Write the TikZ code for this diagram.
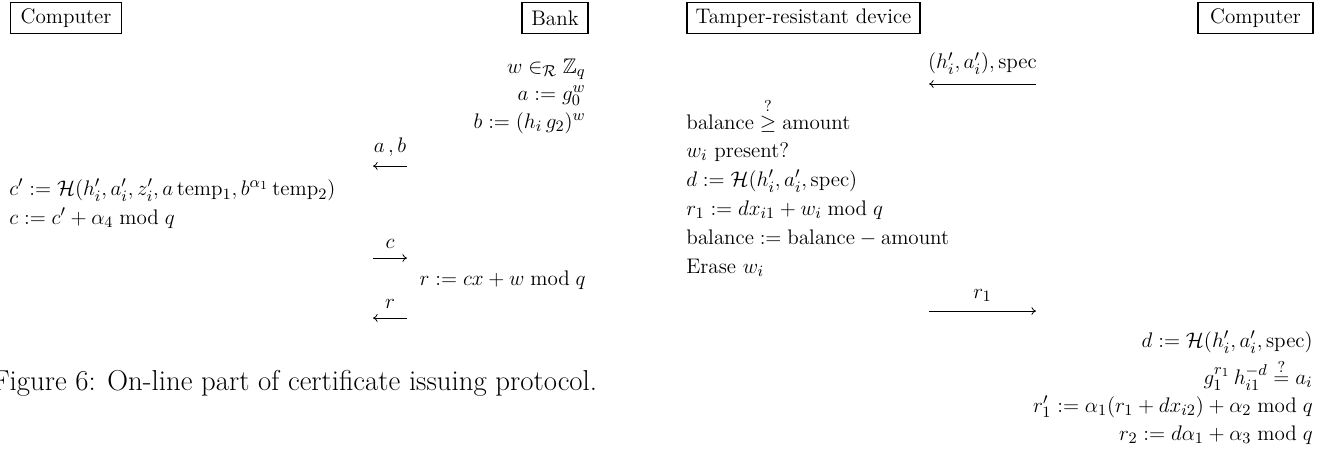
\RequirePackage{fix-cm}
\documentclass[tikz,border=0pt]{standalone}
\usepackage{amsmath,amssymb}
\DeclareMathSizes{12}{12}{9}{7}
\usetikzlibrary{arrows.meta,positioning}
\tikzset{
  every node/.style={font=\fontsize{12}{14}\selectfont},
  party/.style={draw, line width=0.9pt, minimum height=0.62cm, inner xsep=5pt},
  lline/.style={anchor=base west, inner sep=0pt},
  rline/.style={anchor=base east, inner sep=0pt},
  msgln/.style={-{To[length=2.6pt,width=4.4pt]}, line width=0.45pt},
  msglbl/.style={inner sep=0pt, above=5pt},
}

\begin{document}
\begin{tikzpicture}[x=0.02cm, y=-0.02cm]
    \useasboundingbox (0,0) rectangle (1322,451);
    % left protocol: computer and bank
    \node[party, minimum width=2.22cm] (pc1)  at (66,18)  {Computer};
    \node[party, minimum width=1.32cm] (bank) at (555,18) {Bank};
    \node[rline] (wsel) at (586,73)  {$w \in_{\mathcal{R}} \mathbb{Z}_q$};
    \node[rline] (acom) at (586,100) {$a := g_0^{w}$};
    \node[rline] (bcom) at (586,128) {$b := (h_i\, g_2)^{w}$};
    \coordinate (ab1) at (407,166);
    \coordinate (ab2) at (373,166);
    \draw[msgln] (ab1) -- (ab2) node[msglbl, midway] (ablbl) {$a\,, b$};
    \node[lline] (cpr) at (9,195) {$c' := \mathcal{H}(h_i', a_i', z_i', a\,\mathrm{temp}_1, b^{\alpha_1}\,\mathrm{temp}_2)$};
    \node[lline] (ccom) at (9,224) {$c := c' + \alpha_4 \bmod q$};
    \coordinate (c1) at (373,258);
    \coordinate (c2) at (407,258);
    \draw[msgln] (c1) -- (c2) node[msglbl, midway] (clbl) {$c$};
    \node[rline] (rcom) at (586,285) {$r := cx + w \bmod q$};
    \coordinate (r1) at (407,318);
    \coordinate (r2) at (373,318);
    \draw[msgln] (r1) -- (r2) node[msglbl, midway] (rlbl) {$r$};
    \node[anchor=base west, inner sep=0pt, font=\fontsize{16.4}{19}\selectfont] (capt) at (-8,390)
      {Figure 6: On-line part of certificate issuing protocol.};
    % right protocol: tamper-resistant device and computer
    \node[party, anchor=west] (trd) at (686,18) {Tamper-resistant device};
    \node[party, minimum width=2.3cm]  (pc2) at (1255.5,18) {Computer};
    \coordinate (sp1) at (1036,84);
    \coordinate (sp2) at (929,84);
    \draw[msgln] (sp1) -- (sp2) node[msglbl, midway] (splbl) {$(h_i', a_i'), \mathrm{spec}$};
    \node[lline] (bchk) at (686,129) {$\mathrm{balance} \stackrel{?}{\geq} \mathrm{amount}$};
    \node[lline] (wpre) at (686,157) {$w_i$ present?};
    \node[lline] (dcom) at (686,186) {$d := \mathcal{H}(h_i', a_i', \mathrm{spec})$};
    \node[lline] (rone) at (686,215) {$r_1 := d x_{i1} + w_i \bmod q$};
    \node[lline] (bupd) at (686,244) {$\mathrm{balance} := \mathrm{balance} - \mathrm{amount}$};
    \node[lline] (eras) at (686,273) {Erase $w_i$};
    \coordinate (ro1) at (929,311);
    \coordinate (ro2) at (1036,311);
    \draw[msgln] (ro1) -- (ro2) node[msglbl, midway] (rolbl) {$r_1$};
    \node[rline] (dchk) at (1313,347) {$d := \mathcal{H}(h_i', a_i', \mathrm{spec})$};
    \node[rline] (gchk) at (1313,384) {$g_1^{r_1}\, h_{i1}^{-d} \stackrel{?}{=} a_i$};
    \node[rline] (rpr)  at (1313,412) {$r_1' := \alpha_1 (r_1 + d x_{i2}) + \alpha_2 \bmod q$};
    \node[rline] (rtwo) at (1313,440) {$r_2 := d \alpha_1 + \alpha_3 \bmod q$};
\end{tikzpicture}
\end{document}
